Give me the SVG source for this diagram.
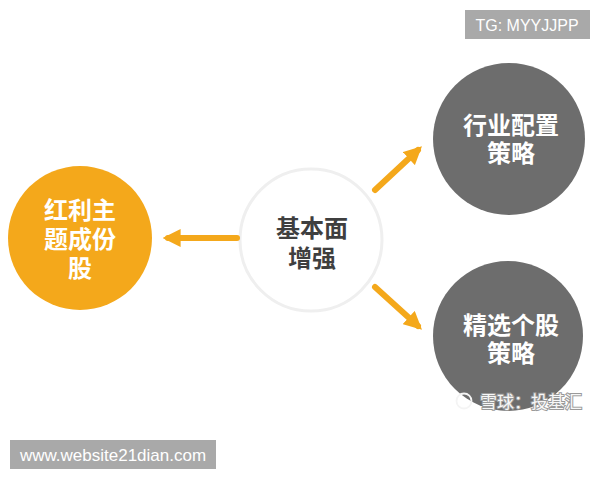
<svg xmlns="http://www.w3.org/2000/svg" width="600" height="480" viewBox="0 0 600 480">
<defs>
<style>
.t{font-family:"Liberation Sans","Noto Sans CJK SC",sans-serif;font-weight:bold;font-size:24px;text-anchor:middle}
.w{fill:#fff}
.d{fill:#3f3f3f}
.lbl{font-family:"Liberation Sans","Noto Sans",sans-serif;fill:#fff;text-anchor:middle}
.con{stroke:#F4A81B;stroke-width:6;stroke-linecap:round;fill:none}
</style>
<marker id="ah" viewBox="0 0 10 10" refX="7" refY="5" markerWidth="3" markerHeight="3" orient="auto" markerUnits="strokeWidth">
<path d="M0,0 L10,5 L0,10 Z" fill="#F4A81B"/>
</marker>
</defs>
<rect width="600" height="480" fill="#fff"/>
<g id="node-left">
<circle cx="80" cy="238" r="72" fill="#F4A81B"/>
<text class="t w" x="80" y="219">红利主</text>
<text class="t w" x="80" y="248">题成份</text>
<text class="t w" x="80" y="277">股</text>
</g>
<g id="node-center">
<circle cx="311" cy="240" r="71" fill="#fff" stroke="#efefef" stroke-width="3"/>
<text class="t d" x="312" y="237">基本面</text>
<text class="t d" x="312" y="267">增强</text>
</g>
<g id="node-top">
<circle cx="509" cy="139" r="76" fill="#6d6d6d"/>
<text class="t w" x="511" y="134">行业配置</text>
<text class="t w" x="511" y="162">策略</text>
</g>
<g id="node-bottom">
<circle cx="508" cy="336" r="75" fill="#6d6d6d"/>
<text class="t w" x="511" y="334">精选个股</text>
<text class="t w" x="511" y="362">策略</text>
</g>
<g id="connectors">
<line class="con" x1="237" y1="238" x2="168" y2="238" marker-end="url(#ah)"/>
<line class="con" x1="375" y1="190" x2="418" y2="150" marker-end="url(#ah)"/>
<line class="con" x1="375" y1="287" x2="418" y2="326" marker-end="url(#ah)"/>
</g>
<g id="watermarks">
<rect x="465" y="10" width="125" height="29" fill="#a9a9a9"/>
<text class="lbl" x="527" y="31" font-size="16">TG: MYYJJPP</text>
<rect x="10" y="440" width="206" height="29" fill="#a9a9a9"/>
<text class="lbl" x="113" y="461" font-size="17">www.website21dian.com</text>
<circle cx="464" cy="401" r="7.5" fill="none" stroke="#f4f4f4" stroke-width="1.8"/>
<text x="480" y="408" font-family="Noto Sans CJK SC,sans-serif" font-size="17" fill="#f7f7f7" stroke="#9a9a9a" stroke-width="2" paint-order="stroke">雪球：投基汇</text>
</g>
</svg>
